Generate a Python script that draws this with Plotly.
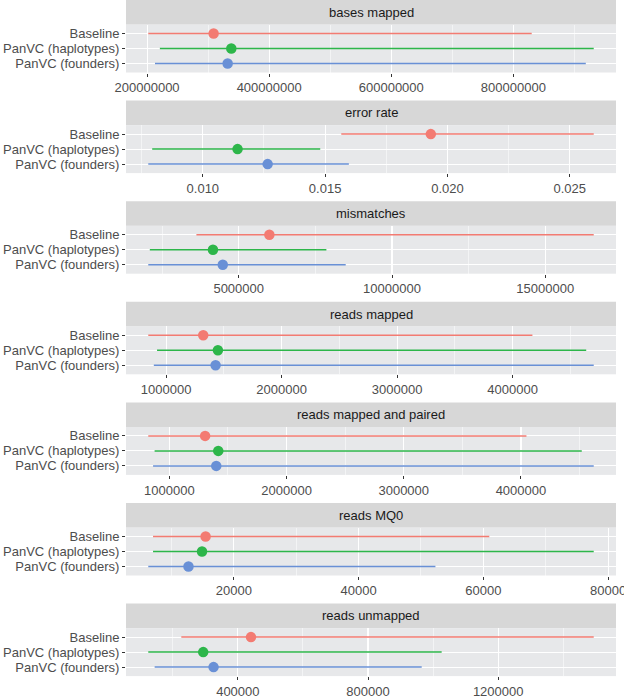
import plotly.graph_objects as go

categories = ["Baseline", "PanVC (haplotypes)", "PanVC (founders)"]
colors = ["#F37B72", "#2DB64A", "#6990D6"]

metrics = ["bases mapped", "error rate", "mismatches", "reads mapped",
           "reads mapped and paired", "reads MQ0", "reads unmapped"]

bases_low = [202e6, 221e6, 213e6]
bases_mid = [309e6, 338e6, 332e6]
bases_high = [830e6, 931.6e6, 918.6e6]

err_low = [0.01566, 0.00793, 0.00777]
err_mid = [0.01932, 0.01142, 0.01265]
err_high = [0.02598, 0.0148, 0.01597]

mism_low = [3.62e6, 2.10e6, 2.05e6]
mism_mid = [6.0e6, 4.16e6, 4.48e6]
mism_high = [16.58e6, 7.86e6, 8.49e6]

rm_low = [0.845e6, 0.921e6, 0.893e6]
rm_mid = [1.321e6, 1.448e6, 1.428e6]
rm_high = [4.172e6, 4.638e6, 4.703e6]

rmp_low = [0.820e6, 0.874e6, 0.861e6]
rmp_mid = [1.305e6, 1.417e6, 1.400e6]
rmp_high = [4.047e6, 4.519e6, 4.621e6]

mq0_low = [7041, 7041, 6276]
mq0_mid = [15468, 14893, 12723]
mq0_high = [60958, 77702, 52320]

unm_low = [226300, 124771, 144343]
unm_mid = [440367, 293578, 325382]
unm_high = [1493578, 1026300, 965000]

tick_steps = [200e6, 0.005, 5e6, 1e6, 1e6, 20000, 400000]
tick_formats = ["d", ".3f", "d", "d", "d", "d", "d"]

data = [
    (bases_low, bases_mid, bases_high),
    (err_low, err_mid, err_high),
    (mism_low, mism_mid, mism_high),
    (rm_low, rm_mid, rm_high),
    (rmp_low, rmp_mid, rmp_high),
    (mq0_low, mq0_mid, mq0_high),
    (unm_low, unm_mid, unm_high),
]

W, H = 624, 699
x0_px, x1_px = 126, 616
period = 100.6
strip_h = 24.5
panel_h = 48

FONT = "Liberation Sans, Arial, Helvetica, sans-serif"

fig = go.Figure()
shapes = []
annotations = []
layout_axes = {}

for i, (metric, (lo, mid, hi)) in enumerate(zip(metrics, data)):
    n = i + 1
    xa = "x" if n == 1 else f"x{n}"
    ya = "y" if n == 1 else f"y{n}"
    for j, cat in enumerate(categories):
        fig.add_trace(go.Scatter(
            x=[lo[j], hi[j]], y=[cat, cat], mode="lines",
            line=dict(color=colors[j], width=1.5),
            xaxis=xa, yaxis=ya, showlegend=False, hoverinfo="skip"))
    for j, cat in enumerate(categories):
        fig.add_trace(go.Scatter(
            x=[mid[j]], y=[cat], mode="markers",
            marker=dict(color=colors[j], size=10.5, line=dict(width=0)),
            xaxis=xa, yaxis=ya, showlegend=False))

    dmin = min(lo)
    dmax = max(hi)
    pad = (dmax - dmin) * 0.05
    step = tick_steps[i]

    strip_top = period * i
    plot_top = strip_top + strip_h
    plot_bot = plot_top + panel_h

    xkey = "xaxis" if n == 1 else f"xaxis{n}"
    ykey = "yaxis" if n == 1 else f"yaxis{n}"
    layout_axes[xkey] = dict(
        domain=[x0_px / W, x1_px / W],
        anchor=ya,
        range=[dmin - pad, dmax + pad],
        tickmode="linear", tick0=0, dtick=step,
        tickformat=tick_formats[i],
        ticklabeloverflow="allow",
        showgrid=True, gridcolor="white", gridwidth=1.1,
        minor=dict(tick0=0, dtick=step / 2, showgrid=True,
                   gridcolor="white", gridwidth=0.5),
        ticks="outside", ticklen=3, tickwidth=1, tickcolor="#333333",
        tickfont=dict(family=FONT, size=13, color="#4D4D4D"),
        zeroline=False, showline=False, fixedrange=True,
        automargin=False,
    )
    layout_axes[ykey] = dict(
        domain=[1 - plot_bot / H, 1 - plot_top / H],
        anchor=xa,
        type="category",
        categoryorder="array", categoryarray=categories,
        tickmode="array", tickvals=categories, ticktext=categories,
        range=[2.6, -0.6],
        showgrid=True, gridcolor="white", gridwidth=1.1,
        ticks="outside", ticklen=3, tickwidth=1, tickcolor="#333333",
        tickfont=dict(family=FONT, size=13, color="#4D4D4D"),
        zeroline=False, showline=False, fixedrange=True,
        automargin=False,
    )

    shapes.append(dict(
        type="rect", xref="paper", yref="paper",
        x0=x0_px / W, x1=x1_px / W,
        y0=1 - plot_top / H, y1=1 - strip_top / H,
        fillcolor="#D7D7D7", line=dict(width=0), layer="below"))
    annotations.append(dict(
        text=metric, xref="paper", yref="paper",
        x=(x0_px + x1_px) / 2 / W, y=1 - (strip_top + strip_h / 2) / H,
        xanchor="center", yanchor="middle", showarrow=False,
        font=dict(family=FONT, size=13, color="#1A1A1A")))

fig.update_layout(
    width=W, height=H,
    margin=dict(l=0, r=0, t=0, b=0),
    paper_bgcolor="white", plot_bgcolor="#E7E8EA",
    shapes=shapes, annotations=annotations,
    showlegend=False,
    font=dict(family=FONT),
    **layout_axes,
)

fig.write_html(
    "out.html",
    config={"displayModeBar": False, "staticPlot": True},
    post_script="document.body.style.margin='0';document.body.style.padding='0';"
                "document.body.style.overflow='hidden';",
)
